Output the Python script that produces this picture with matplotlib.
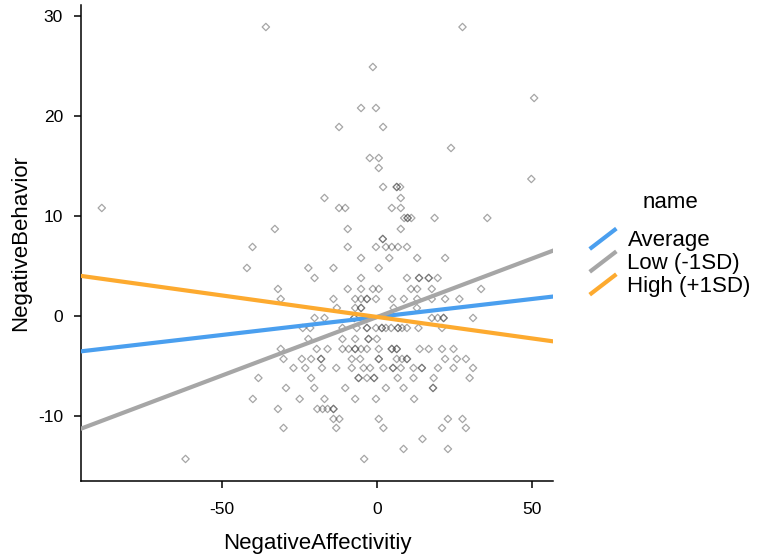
import matplotlib
matplotlib.use("Agg")
import matplotlib.pyplot as plt
from matplotlib.lines import Line2D
from matplotlib.legend_handler import HandlerBase

plt.rcParams['font.family'] = ['Liberation Sans', 'DejaVu Sans']
plt.rcParams['axes.unicode_minus'] = False

# scatter points, one row per NegativeBehavior level
row_y = [28.9, 24.9, 21.8, 20.8, 18.9, 16.8, 15.8, 14.8, 13.7, 12.9,
         11.8, 10.8, 9.8, 8.7, 7.7, 6.9, 5.8, 4.8, 3.8, 2.7,
         1.7, 0.8, -0.2, -1.2, -2.3, -3.3, -4.3, -5.2, -6.2, -7.2,
         -8.3, -9.3, -10.3, -11.2, -12.3, -13.3, -14.3]
row_x = [
    [-35.9, 27.5],
    [-1.4],
    [50.6],
    [-5.2, -0.4],
    [-12.3, 1.9],
    [23.8],
    [-2.4, 0.5],
    [0.5],
    [49.7],
    [1.9, 6.3, 6.3, 7.4],
    [-17.0, 7.6],
    [-88.8, -12.3, -10.3, 4.7, 7.6],
    [8.7, 9.8, 9.8, 11.0, 18.5, 35.5],
    [-33.0, -9.5, 7.6],
    [1.8, 1.8],
    [-40.2, -9.5, -0.4, 2.8, 4.7, 6.7, 9.6],
    [-5.2, 3.9, 12.9, 21.9],
    [-42.0, -22.2, -14.1, 0.5],
    [-20.2, -5.2, 9.6, 13.5, 13.5, 16.6, 16.6, 19.5],
    [-32.0, -9.5, -5.2, -1.4, 0.5, 10.9, 12.9, 17.6, 33.5],
    [-31.1, -14.1, -7.1, -5.2, -3.3, -3.3, -0.4, 4.8, 8.6, 12.9, 17.6, 21.9, 26.5],
    [-13.0, -7.1, -5.2, -5.2, 5.3, 12.8],
    [-20.2, -17.0, -7.4, -7.4, 17.6, 19.5, 21.4, 21.4, 30.9],
    [-24.0, -21.6, -11.2, -6.6, -3.3, -3.3, -0.4, 1.5, 1.5, 2.8, 4.5, 6.7, 6.7,
     8.0, 9.6, 13.3, 20.9],
    [-22.2, -11.2, -7.1, -2.8, -2.8, -0.1],
    [-31.1, -19.5, -16.0, -11.2, -9.2, -7.1, -7.1, -5.2, -3.3, 0.5, 4.7, 4.7,
     6.3, 6.3, 13.7, 16.6, 20.9, 24.6],
    [-30.2, -24.3, -21.3, -18.1, -18.1, -8.2, -5.5, 0.5, 0.5, 6.3, 8.0, 9.6,
     9.6, 21.9, 25.7, 28.6],
    [-27.0, -23.2, -17.8, -13.2, -8.2, -4.4, -2.3, 2.0, 5.1, 5.1, 7.6, 11.7,
     14.4, 14.4, 19.6, 24.6, 30.9],
    [-38.3, -21.3, -6.0, -6.0, -3.3, -1.0, -1.0, 6.6, 11.7, 18.2, 29.8],
    [-29.4, -20.3, -10.3, 2.8, 8.5, 18.0, 18.0],
    [-40.1, -25.0, -17.0, -7.1, -0.4, 11.9],
    [-32.0, -19.3, -17.6, -16.0, -14.1, -14.1],
    [-14.1, -12.2, 0.5, 22.8, 27.5],
    [-30.2, -13.2, 2.0, 20.9, 28.6],
    [14.6],
    [8.5, 22.8],
    [-61.8, -4.2],
]

# simple slopes
line_names = ['Average', 'Low (-1SD)', 'High (+1SD)']
line_slopes = [0.036, 0.117, -0.043]
line_intercepts = [-0.1, -0.1, -0.1]
line_colors = ['#4A9FEF', '#A6A6A6', '#FDAA2F']


class DiagonalHandler(HandlerBase):
    # legend key drawn as a slanted line, like ggplot's abline key
    def create_artists(self, legend, orig_handle, xdescent, ydescent,
                       width, height, fontsize, trans):
        x0, y0 = -xdescent, -ydescent
        key = Line2D([x0, x0 + width], [y0, y0 + height],
                     color=orig_handle.get_color(),
                     lw=orig_handle.get_linewidth(),
                     solid_capstyle='butt', transform=trans)
        return [key]


fig = plt.figure(figsize=(7.57, 5.56), dpi=100)
ax = fig.add_axes([0.107, 0.135, 0.624, 0.856])

xs = [x for row in row_x for x in row]
ys = [y for y, row in zip(row_y, row_x) for _ in row]
ax.scatter(xs, ys, marker='D', s=14, facecolors='none', edgecolors='#3a3a3a',
           linewidths=0.9, alpha=0.45, zorder=2)

handles = []
for name, b, a, c in zip(line_names, line_slopes, line_intercepts, line_colors):
    h = ax.axline((0, a), slope=b, color=c, lw=3, label=name, zorder=3)
    handles.append(h)

ax.set_xlim(-95.5, 56.8)
ax.set_ylim(-16.5, 31.1)
ax.set_xticks([-50, 0, 50])
ax.set_yticks([-10, 0, 10, 20, 30])
ax.tick_params(length=5, width=1.1, labelsize=12.5, colors='black')
ax.tick_params(axis='x', pad=10)
ax.tick_params(axis='y', pad=8)
for s in ['top', 'right']:
    ax.spines[s].set_visible(False)
for s in ['left', 'bottom']:
    ax.spines[s].set_linewidth(1.1)

ax.set_xlabel('NegativeAffectivitiy', fontsize=16, labelpad=12)
ax.set_ylabel('NegativeBehavior', fontsize=16, labelpad=5)

leg = fig.legend(handles, line_names, title='name', loc='center left',
                 bbox_to_anchor=(0.779, 0.560), frameon=False, fontsize=16,
                 title_fontsize=16, handlelength=1.2, handleheight=1.04,
                 labelspacing=0.0, handletextpad=0.5, borderpad=0,
                 borderaxespad=0, handler_map={Line2D: DiagonalHandler()})
leg._legend_box.sep = 11

fig.savefig('out.png', dpi=100)
